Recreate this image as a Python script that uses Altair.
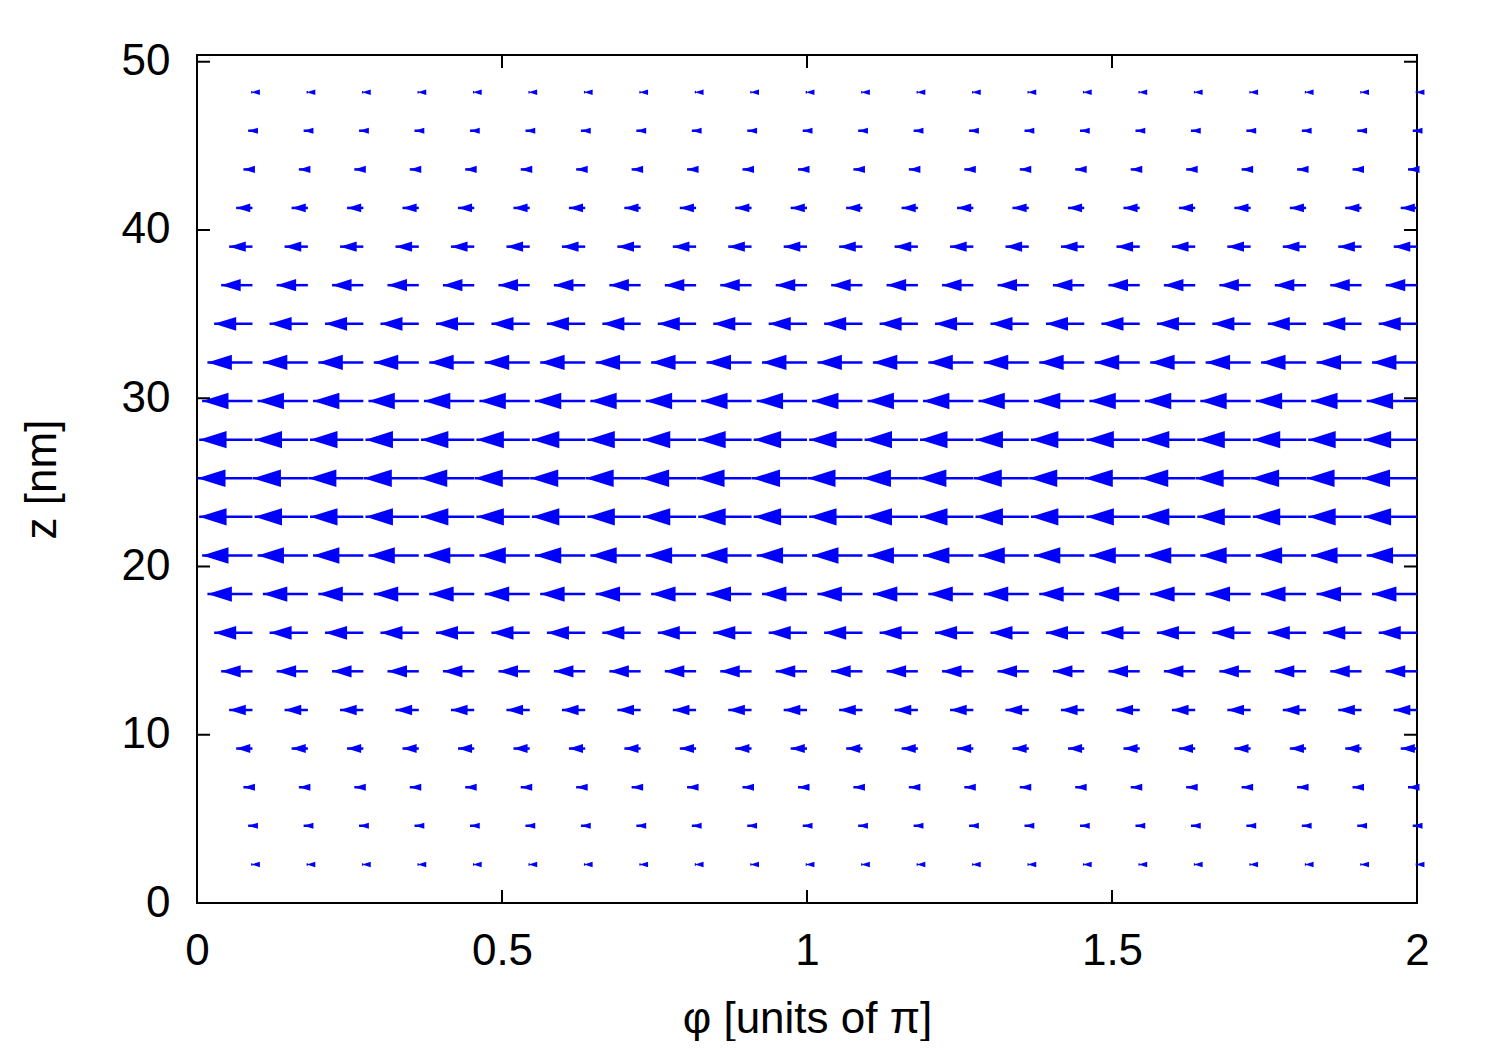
import altair as alt
import pandas as pd

# column positions of arrow tails (phi, units of pi)
phi_cols = [0.0909, 0.1818, 0.2727, 0.3636, 0.4545, 0.5455, 0.6364, 0.7273,
            0.8182, 0.9091, 1.0000, 1.0909, 1.1818, 1.2727, 1.3636, 1.4545,
            1.5455, 1.6364, 1.7273, 1.8182, 1.9091, 2.0000]
# row positions (z, nm)
z_rows = [2.29, 4.59, 6.88, 9.18, 11.47, 13.77, 16.06, 18.36, 20.65, 22.95,
          25.24, 27.54, 29.83, 32.13, 34.42, 36.72, 39.01, 41.31, 43.60,
          45.90, 48.19]
# vector component along phi for each row (negative = pointing left)
dphi_rows = [-0.0021, -0.0070, -0.0148, -0.0267, -0.0382, -0.0513, -0.0628,
             -0.0738, -0.0825, -0.0874, -0.0902, -0.0874, -0.0825, -0.0738,
             -0.0628, -0.0513, -0.0382, -0.0267, -0.0148, -0.0070, -0.0021]

x_ticks = [0, 0.5, 1, 1.5, 2]
y_ticks = [0, 10, 20, 30, 40, 50]

W, H = 1220, 848
PX = W / 2.0  # pixels per phi unit (for arrow-head styling)

rows = []
for z, d in zip(z_rows, dphi_rows):
    for p in phi_cols:
        lpx = abs(d) * PX
        h = 5.5 + 0.24 * lpx
        rows.append({"phi": p, "z": z, "tip": p + d, "hs": 4 * h * h})
df = pd.DataFrame(rows)
xt = pd.DataFrame({"tv": x_ticks})
yt = pd.DataFrame({"tv": y_ticks})

FONT = "Liberation Sans"
FS = 44
xscale = alt.Scale(domain=[0, 2], nice=False, zero=False)
yscale = alt.Scale(domain=[0, 50.4], nice=False, zero=False)
xaxis = alt.Axis(values=x_ticks, format="~g", labelPadding=26, labelFlush=False,
                 labelOverlap=False, titleY=116, titleBaseline="middle")
yaxis = alt.Axis(values=y_ticks, format="d", labelPadding=27, labelFlush=False,
                 labelOverlap=False, titleX=-155, titleY=424,
                 titleBaseline="middle", titleAlign="center")
XT = "φ [units of π]"
YT = "z [nm]"
BLUE = "#0000ff"

shaft = alt.Chart(df).mark_rule(color=BLUE, strokeWidth=2.5).encode(
    x=alt.X("phi:Q", scale=xscale, axis=xaxis, title=XT),
    x2="tip:Q",
    y=alt.Y("z:Q", scale=yscale, axis=yaxis, title=YT),
)
head = alt.Chart(df).mark_point(shape="M0,0L1.5,-0.47L1.5,0.47Z", filled=True,
                                color=BLUE, opacity=1, strokeWidth=0).encode(
    x=alt.X("tip:Q", scale=xscale, axis=xaxis, title=XT),
    y=alt.Y("z:Q", scale=yscale, axis=yaxis, title=YT),
    size=alt.Size("hs:Q", scale=None, legend=None),
)
TL = 13
ytl = alt.Chart(yt).mark_rule(color="black", strokeWidth=2).encode(
    y=alt.Y("tv:Q", scale=yscale, axis=yaxis, title=YT),
    x=alt.value(0), x2=alt.value(TL))
ytr = alt.Chart(yt).mark_rule(color="black", strokeWidth=2).encode(
    y=alt.Y("tv:Q", scale=yscale, axis=yaxis, title=YT),
    x=alt.value(W - TL), x2=alt.value(W))
xtb = alt.Chart(xt).mark_rule(color="black", strokeWidth=2).encode(
    x=alt.X("tv:Q", scale=xscale, axis=xaxis, title=XT),
    y=alt.value(H), y2=alt.value(H - TL))
xtt = alt.Chart(xt).mark_rule(color="black", strokeWidth=2).encode(
    x=alt.X("tv:Q", scale=xscale, axis=xaxis, title=XT),
    y=alt.value(0), y2=alt.value(TL))

chart = alt.layer(shaft, head, ytl, ytr, xtb, xtt).properties(
    width=W, height=H,
    autosize=alt.AutoSizeParams(type="none"),
    padding={"left": 189, "top": 47, "right": 60, "bottom": 138},
    background="white",
).configure_view(stroke="black", strokeWidth=2).configure_axis(
    grid=False, domain=False, ticks=False,
    labelFont=FONT, labelFontSize=FS, labelColor="black",
    titleFont=FONT, titleFontSize=FS, titleFontWeight="normal", titleColor="black",
)

chart.save("out.html", embed_options={"renderer": "svg", "actions": False})
